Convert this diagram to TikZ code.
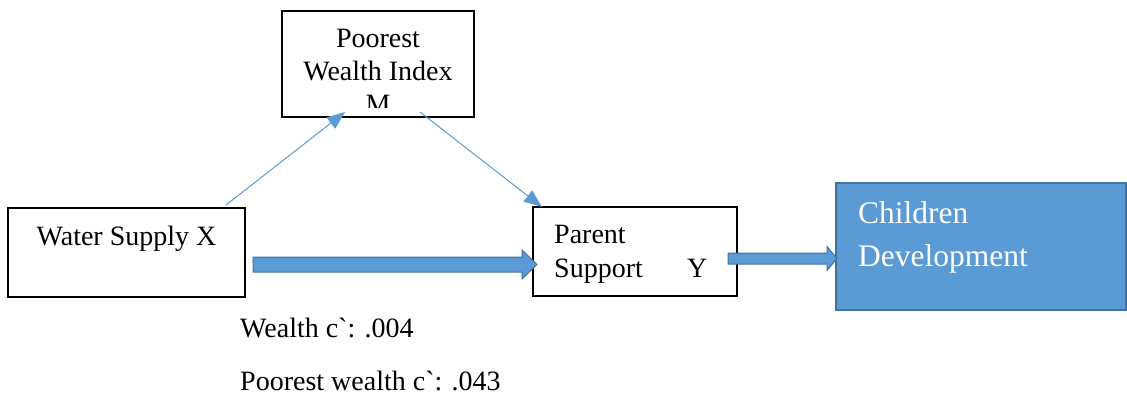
\documentclass[tikz,border=0pt]{standalone}
\usepackage{fontspec}
\setmainfont{Liberation Serif}
\usetikzlibrary{arrows.meta}
\definecolor{accent}{HTML}{5B9BD5}
\definecolor{accentdark}{HTML}{41719C}
% block arrow: shaft start x, head start x, tip x, centre y, shaft half width, head half width
\newcommand\blockarrow[6]{%
  \draw[block] (#1,#4-#5) -- (#2,#4-#5) -- (#2,#4-#6) -- (#3,#4)
    -- (#2,#4+#6) -- (#2,#4+#5) -- (#1,#4+#5) -- cycle;}
\begin{document}
\begin{tikzpicture}[x=1pt,y=-1pt,
  box/.style={draw=black,line width=1.5pt,fill=white,inner sep=0pt},
  txt/.style={inner sep=0pt,font=\fontsize{28}{33}\selectfont},
  bigtxt/.style={inner sep=0pt,font=\fontsize{31.5}{37}\selectfont,text=white,anchor=base west},
  link/.style={draw=accent,line width=1pt,-{Triangle[length=18pt,width=14pt]}},
  block/.style={fill=accent,draw=accentdark,line width=1pt,line join=miter}]
\useasboundingbox (0,0) rectangle (1127,405);

% boxes
\node[box,minimum width=192,minimum height=106] (m) at (378,64) {};
\node[box,minimum width=237,minimum height=89] (x) at (126.5,252.5) {};
\node[box,minimum width=204,minimum height=89] (y) at (635,251.5) {};
\node[fill=accent,draw=accentdark,line width=1.5pt,inner sep=0pt,
      minimum width=290,minimum height=127] (cd) at (981,246.5) {};

% mediator text, cut off by its frame
\begin{scope}
  \clip (282,11) rectangle (474,107);
  \node[txt,anchor=base] (m1) at (378,47) {Poorest};
  \node[txt,anchor=base] (m2) at (378,80) {Wealth Index};
  \node[txt,anchor=base] (m3) at (378,113.5) {M};
\end{scope}

\node[txt,anchor=base] (xt) at (126.5,245) {Water Supply X};
\node[txt,anchor=base west] (y1) at (554,243) {Parent};
\node[txt,anchor=base west] (y2) at (554,277) {Support};
\node[txt,anchor=base west] (y3) at (687,277) {Y};
\node[bigtxt] (cd1) at (858,223) {Children};
\node[bigtxt] (cd2) at (858,266) {Development};

% thin paths through the mediator
\coordinate (a1) at (226,205);
\coordinate (a2) at (345,112);
\coordinate (b1) at (420,112);
\coordinate (b2) at (542,207);
\draw[link] (a1) -- (a2);
\draw[link] (b1) -- (b2);

% direct effect arrows
\blockarrow{253}{522}{537}{264.5}{7.5}{14.5}
\blockarrow{728}{827}{837}{258.5}{5.5}{12}

% effect labels
\node[txt,anchor=base west] (l1) at (240,337) {Wealth c\textasciigrave: .004};
\node[txt,anchor=base west] (l2) at (240,390) {Poorest wealth c\textasciigrave: .043};
\end{tikzpicture}
\end{document}
